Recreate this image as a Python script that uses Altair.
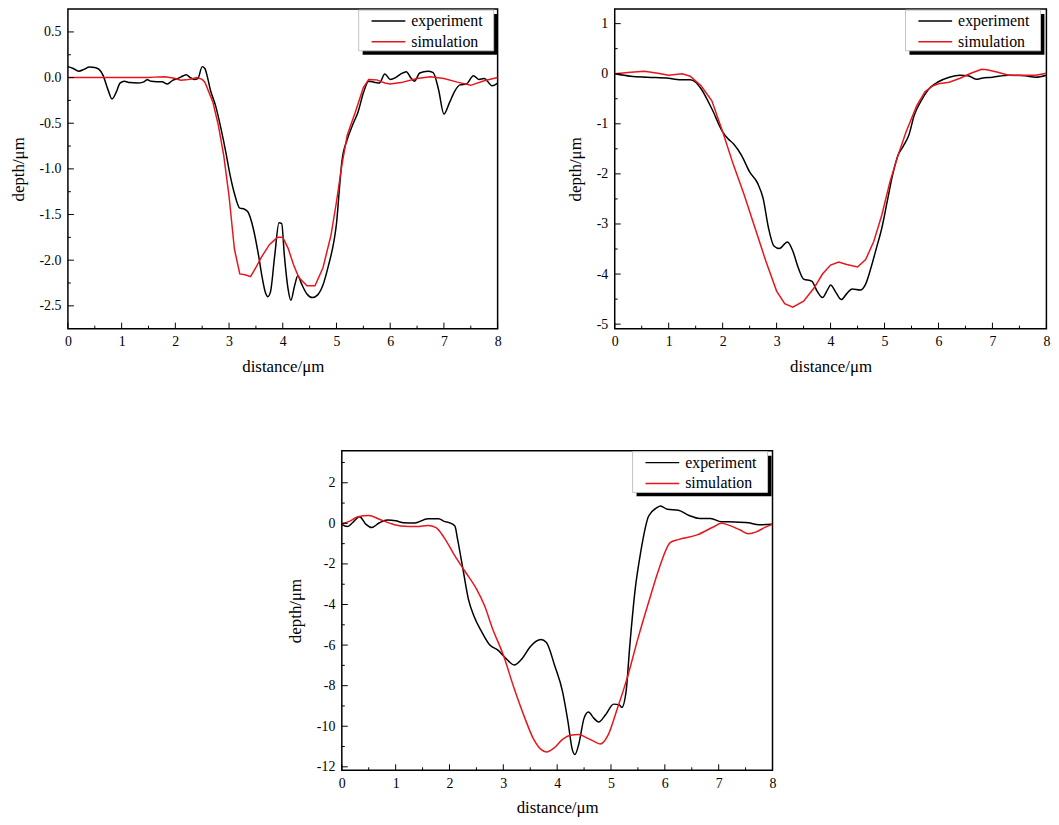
import altair as alt
import pandas as pd

# ---------------- data ----------------
SERIES = ["experiment", "simulation"]
COLORS = ["#000000", "#e8151c"]

# Panel 1
P1_EXP_X = [0.0, 0.1, 0.2, 0.3, 0.4, 0.5, 0.58, 0.65, 0.75, 0.82, 0.9, 0.97, 1.05, 1.15, 1.3, 1.4,
            1.48, 1.55, 1.65, 1.75, 1.85, 1.95, 2.05, 2.15, 2.2, 2.28, 2.35, 2.42, 2.5, 2.55, 2.6,
            2.65, 2.75, 2.85, 2.95, 3.0, 3.1, 3.2, 3.28, 3.35, 3.45, 3.55, 3.62, 3.68, 3.72, 3.77,
            3.85, 3.93, 3.98, 4.03, 4.1, 4.15, 4.22, 4.28, 4.35, 4.45, 4.55, 4.65, 4.75, 4.85, 4.95,
            5.0, 5.05, 5.1, 5.2, 5.3, 5.4, 5.5, 5.6, 5.7, 5.8, 5.9, 6.0, 6.1, 6.2, 6.3, 6.38, 6.45,
            6.55, 6.7, 6.8, 6.9, 7.0, 7.1, 7.2, 7.3, 7.42, 7.55, 7.65, 7.75, 7.9, 8.0]
P1_EXP_Y = [0.12, 0.10, 0.07, 0.09, 0.115, 0.11, 0.09, 0.03, -0.14, -0.235, -0.16, -0.06, -0.04,
            -0.055, -0.06, -0.05, -0.025, -0.04, -0.045, -0.045, -0.07, -0.03, -0.01, 0.02, 0.03,
            0.0, -0.02, -0.01, 0.12, 0.10, 0.0, -0.13, -0.31, -0.56, -0.85, -1.01, -1.27, -1.43,
            -1.44, -1.47, -1.65, -1.95, -2.2, -2.36, -2.40, -2.35, -1.95, -1.59, -1.60, -1.95,
            -2.32, -2.44, -2.28, -2.17, -2.26, -2.37, -2.41, -2.38, -2.27, -2.06, -1.80, -1.60,
            -1.25, -0.92, -0.68, -0.52, -0.38, -0.17, -0.04, -0.05, -0.06, 0.04, -0.02, 0.0, 0.04,
            0.065, 0.0, -0.04, 0.05, 0.07, 0.055, -0.13, -0.40, -0.28, -0.15, -0.08, -0.07, 0.02,
            -0.02, -0.01, -0.09, -0.06]
P1_SIM_X = [0.0, 0.5, 1.0, 1.5, 1.6, 1.8, 1.9, 2.0, 2.1, 2.2, 2.3, 2.4, 2.5, 2.55, 2.7, 2.8, 2.9,
            3.0, 3.1, 3.2, 3.3, 3.4, 3.5, 3.6, 3.75, 3.9, 4.0, 4.1, 4.2, 4.3, 4.45, 4.6, 4.75, 4.9,
            5.0, 5.1, 5.2, 5.35, 5.5, 5.6, 5.75, 5.9, 6.0, 6.2, 6.5, 6.75, 7.0, 7.25, 7.5, 7.75, 8.0]
P1_SIM_Y = [0.0, 0.0, 0.0, 0.0, 0.005, 0.01, 0.0, -0.01, -0.03, -0.025, -0.015, 0.0, -0.02, -0.05,
            -0.27, -0.52, -0.85, -1.30, -1.88, -2.15, -2.16, -2.18, -2.08, -1.97, -1.83, -1.75,
            -1.75, -1.87, -2.05, -2.19, -2.28, -2.28, -2.08, -1.72, -1.36, -0.96, -0.63, -0.38,
            -0.11, -0.02, -0.025, -0.06, -0.07, -0.055, -0.01, 0.01, -0.01, -0.05, -0.085, -0.035,
            0.0]

# Panel 2
P2_EXP_X = [0.0, 0.3, 0.6, 1.0, 1.2, 1.4, 1.5, 1.6, 1.8, 2.0, 2.1, 2.2, 2.35, 2.5, 2.65, 2.75,
            2.85, 2.95, 3.05, 3.2, 3.3, 3.4, 3.5, 3.65, 3.75, 3.85, 3.95, 4.0, 4.1, 4.2, 4.3, 4.4,
            4.55, 4.65, 4.75, 4.85, 4.95, 5.05, 5.15, 5.25, 5.35, 5.45, 5.55, 5.7, 5.85, 6.0, 6.2,
            6.4, 6.55, 6.7, 6.8, 7.0, 7.3, 7.6, 7.8, 8.0]
P2_EXP_Y = [0.0, -0.05, -0.07, -0.09, -0.12, -0.12, -0.17, -0.30, -0.70, -1.16, -1.30, -1.40,
            -1.63, -1.96, -2.19, -2.49, -3.08, -3.44, -3.49, -3.36, -3.54, -3.87, -4.10, -4.14,
            -4.34, -4.47, -4.30, -4.22, -4.37, -4.51, -4.39, -4.30, -4.32, -4.20, -3.87, -3.48,
            -3.08, -2.55, -2.02, -1.63, -1.44, -1.23, -0.83, -0.50, -0.27, -0.16, -0.07, -0.03,
            -0.04, -0.11, -0.09, -0.07, -0.03, -0.04, -0.07, -0.03]
P2_SIM_X = [0.0, 0.3, 0.55, 0.8, 1.0, 1.25, 1.4, 1.6, 1.8, 2.0, 2.2, 2.4, 2.6, 2.8, 3.0, 3.15, 3.3,
            3.5, 3.7, 3.85, 4.0, 4.15, 4.3, 4.5, 4.65, 4.8, 4.95, 5.1, 5.25, 5.4, 5.6, 5.75, 5.9,
            6.0, 6.2, 6.4, 6.6, 6.8, 6.9, 7.1, 7.3, 7.6, 7.8, 8.0]
P2_SIM_Y = [0.0, 0.03, 0.05, 0.01, -0.03, 0.0, -0.05, -0.24, -0.54, -1.16, -1.82, -2.42, -3.08,
            -3.74, -4.34, -4.59, -4.66, -4.54, -4.27, -4.00, -3.82, -3.76, -3.81, -3.86, -3.71,
            -3.35, -2.82, -2.16, -1.63, -1.16, -0.63, -0.36, -0.24, -0.20, -0.17, -0.09, 0.01,
            0.09, 0.08, 0.03, -0.03, -0.03, -0.03, 0.01]

# Panel 3
P3_EXP_X = [0.0, 0.1, 0.2, 0.33, 0.45, 0.55, 0.7, 0.85, 1.0, 1.15, 1.35, 1.6, 1.8, 1.9, 2.0, 2.1,
            2.15, 2.25, 2.35, 2.45, 2.6, 2.75, 2.9, 3.05, 3.2, 3.35, 3.5, 3.7, 3.8, 3.95, 4.1, 4.2,
            4.28, 4.33, 4.4, 4.5, 4.58, 4.68, 4.77, 4.9, 5.05, 5.15, 5.2, 5.28, 5.35, 5.45, 5.55,
            5.7, 5.85, 5.92, 6.05, 6.25, 6.45, 6.65, 6.85, 7.05, 7.3, 7.55, 7.75, 8.0]
P3_EXP_Y = [-0.05, -0.16, 0.03, 0.33, -0.05, -0.21, 0.03, 0.16, 0.13, 0.03, 0.02, 0.23, 0.23, 0.10,
            0.03, -0.13, -0.78, -2.25, -3.72, -4.54, -5.35, -6.00, -6.25, -6.66, -6.98, -6.66,
            -6.08, -5.73, -5.87, -6.98, -8.29, -9.76, -11.14, -11.39, -10.90, -9.60, -9.30, -9.60,
            -9.79, -9.43, -8.91, -8.94, -9.07, -8.29, -6.00, -3.23, -1.44, 0.36, 0.77, 0.85, 0.69,
            0.65, 0.39, 0.24, 0.24, 0.08, 0.07, 0.03, -0.07, -0.05]
P3_SIM_X = [0.0, 0.15, 0.3, 0.5, 0.7, 0.9, 1.1, 1.4, 1.6, 1.75, 1.9, 2.1, 2.3, 2.5, 2.65, 2.8, 3.0,
            3.2, 3.4, 3.55, 3.7, 3.8, 3.95, 4.1, 4.25, 4.4, 4.55, 4.7, 4.8, 4.95, 5.1, 5.3, 5.5,
            5.7, 5.9, 6.1, 6.25, 6.6, 6.9, 7.05, 7.2, 7.4, 7.55, 7.7, 7.85, 8.0]
P3_SIM_Y = [-0.02, 0.11, 0.33, 0.39, 0.20, 0.0, -0.13, -0.16, -0.10, -0.21, -0.70, -1.60, -2.41,
            -3.23, -4.05, -5.19, -6.49, -8.13, -9.60, -10.57, -11.14, -11.27, -11.06, -10.65,
            -10.44, -10.41, -10.57, -10.77, -10.87, -10.41, -9.27, -7.63, -5.68, -3.88, -2.17,
            -0.95, -0.80, -0.57, -0.18, 0.0, -0.10, -0.33, -0.51, -0.42, -0.21, -0.05]

X_DOMAIN = [0, 8]
X_MAJOR = [0, 1, 2, 3, 4, 5, 6, 7, 8]
X_MINOR = [0.5, 1.5, 2.5, 3.5, 4.5, 5.5, 6.5, 7.5]

P1_YDOM = [-2.75, 0.75]
P1_YMAJ = [-2.5, -2.0, -1.5, -1.0, -0.5, 0.0, 0.5]
P1_YMIN = [-2.25, -1.75, -1.25, -0.75, -0.25, 0.25]
P2_YDOM = [-5.09, 1.29]
P2_YMAJ = [-5, -4, -3, -2, -1, 0, 1]
P2_YMIN = [-4.5, -3.5, -2.5, -1.5, -0.5, 0.5]
P3_YDOM = [-12.17, 3.58]
P3_YMAJ = [-12, -10, -8, -6, -4, -2, 0, 2]
P3_YMIN = [-11, -9, -7, -5, -3, -1, 1, 3]

X_TITLE = "distance/μm"
Y_TITLE = "depth/μm"

FONT = "Liberation Serif"


def panel(ex, ey, sx, sy, ydom, ymaj, ymin, yfmt, width, height, sim_interp):
    df_e = pd.DataFrame({"distance": ex, "depth": ey, "series": SERIES[0]})
    df_s = pd.DataFrame({"distance": sx, "depth": sy, "series": SERIES[1]})
    xs = alt.Scale(domain=X_DOMAIN, nice=False, zero=False)
    ys = alt.Scale(domain=ydom, nice=False, zero=False)
    label_expr = ("datum.value < 0 ? '-' + format(-datum.value, '%s') : format(datum.value, '%s')"
                  % (yfmt, yfmt))
    xaxis = alt.Axis(values=X_MAJOR, ticks=False, domain=False, grid=False, labelPadding=6,
                     labelFont=FONT, labelFontSize=14, labelColor="black", titleFont=FONT,
                     titleFontSize=17, titleFontWeight="normal", titleColor="black",
                     titlePadding=10, labelFlush=False)
    yaxis = alt.Axis(values=ymaj, ticks=False, domain=False, grid=False, labelPadding=7,
                     labelExpr=label_expr, labelFont=FONT, labelFontSize=14, labelColor="black",
                     titleFont=FONT, titleFontSize=17, titleFontWeight="normal",
                     titleColor="black", titlePadding=12, labelFlush=False)
    cscale = alt.Scale(domain=SERIES, range=COLORS)

    exp_line = alt.Chart(df_e).mark_line(strokeWidth=1.5, clip=True, interpolate="monotone").encode(
        x=alt.X("distance:Q", scale=xs, axis=xaxis, title=X_TITLE),
        y=alt.Y("depth:Q", scale=ys, axis=yaxis, title=Y_TITLE),
        color=alt.Color("series:N", scale=cscale, legend=None),
    )
    sim_line = alt.Chart(df_s).mark_line(strokeWidth=1.5, clip=True, interpolate=sim_interp).encode(
        x=alt.X("distance:Q", scale=xs, title=X_TITLE),
        y=alt.Y("depth:Q", scale=ys, title=Y_TITLE),
        color=alt.Color("series:N", scale=cscale, legend=None),
    )

    def yticks(vals, length):
        return alt.Chart(pd.DataFrame({"depth": vals})).mark_rule(color="black", strokeWidth=1).encode(
            y=alt.Y("depth:Q", scale=ys, title=Y_TITLE),
            x=alt.value(0), x2=alt.value(length))

    def xticks(vals, length):
        return alt.Chart(pd.DataFrame({"distance": vals})).mark_rule(color="black", strokeWidth=1).encode(
            x=alt.X("distance:Q", scale=xs, title=X_TITLE),
            y=alt.value(height), y2=alt.value(height - length))

    # legend box with drop shadow (top-right)
    one = pd.DataFrame({"k": [0]})
    bx, by, bw, bh, sh = 293, 1, 136, 41, 4
    shadow = alt.Chart(one).mark_rect(color="black").encode(
        x=alt.value(bx + sh), x2=alt.value(bx + bw + sh),
        y=alt.value(by + sh), y2=alt.value(by + bh + sh))
    box = alt.Chart(one).mark_rect(fill="white", stroke="#c4c4c4", strokeWidth=1).encode(
        x=alt.value(bx), x2=alt.value(bx + bw), y=alt.value(by), y2=alt.value(by + bh))
    entries = []
    for i, (name, col) in enumerate(zip(SERIES, COLORS)):
        yy = by + 11 + 21 * i
        entries.append(alt.Chart(one).mark_rule(color=col, strokeWidth=1.5).encode(
            x=alt.value(bx + 13), x2=alt.value(bx + 47), y=alt.value(yy)))
        entries.append(alt.Chart(one).mark_text(
            text=name, font=FONT, fontSize=16, color="black", align="left",
            baseline="middle").encode(x=alt.value(bx + 53), y=alt.value(yy)))

    return alt.layer(
        exp_line, sim_line,
        yticks(ymaj, 6), yticks(ymin, 3),
        xticks(X_MAJOR, 6), xticks(X_MINOR, 3),
        shadow, box, *entries,
    ).properties(width=width, height=height)


p1 = panel(P1_EXP_X, P1_EXP_Y, P1_SIM_X, P1_SIM_Y, P1_YDOM, P1_YMAJ, P1_YMIN, ".1f", 433, 322, "linear")
p2 = panel(P2_EXP_X, P2_EXP_Y, P2_SIM_X, P2_SIM_Y, P2_YDOM, P2_YMAJ, P2_YMIN, "d", 435, 322, "linear")
p3 = panel(P3_EXP_X, P3_EXP_Y, P3_SIM_X, P3_SIM_Y, P3_YDOM, P3_YMAJ, P3_YMIN, "d", 434, 322, "monotone")

top = alt.hconcat(p1, p2, spacing=63)
chart = alt.vconcat(top, p3, spacing=75, center=True).properties(
    padding={"left": 0, "top": -3, "right": 0, "bottom": 0}, background="white"
).configure_view(stroke="black", strokeWidth=1.5)

chart.save("out.html", embed_options={"renderer": "svg", "actions": False})
